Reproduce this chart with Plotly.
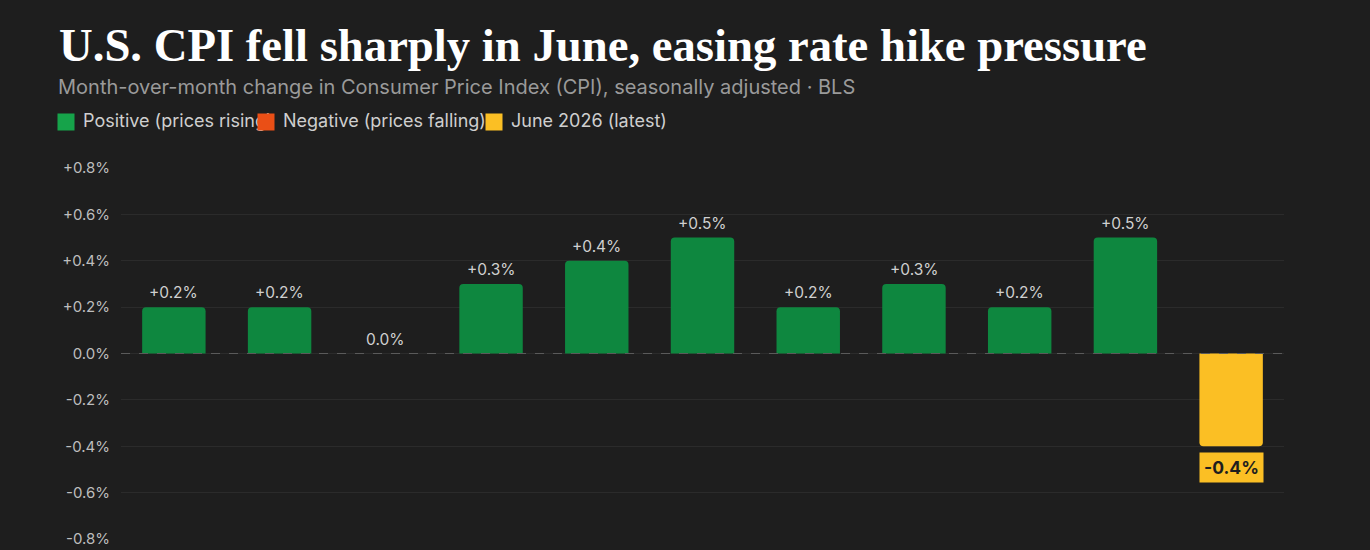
import plotly.graph_objects as go

# ---- data ----
months = ["Aug 2025", "Sep 2025", "Oct 2025", "Nov 2025", "Dec 2025", "Jan 2026",
          "Feb 2026", "Mar 2026", "Apr 2026", "May 2026", "Jun 2026"]
cpi_mom = [0.2, 0.2, 0.0, 0.3, 0.4, 0.5, 0.2, 0.3, 0.2, 0.5, -0.4]
y_ticks = [0.8, 0.6, 0.4, 0.2, 0.0, -0.2, -0.4, -0.6, -0.8]
legend_labels = ["Positive (prices rising)", "Negative (prices falling)", "June 2026 (latest)"]

TITLE = "U.S. CPI fell sharply in June, easing rate hike pressure"
SUBTITLE = "Month-over-month change in Consumer Price Index (CPI), seasonally adjusted · BLS"

# ---- style ----
BG = "#1e1e1e"
GREEN = "#0e873f"
GREEN_LEG = "#16a34a"
RED = "#ea4f16"
YELLOW = "#fbbf24"
W, H = 1370, 550
ML, MR, MT, MB = 121, 86, 168, 11
PW, PH = W - ML - MR, H - MT - MB


def px_x(px):
    return (px - ML) / PW


def px_y(py):
    return (H - MB - py) / PH


def fmt(v):
    if v > 0:
        return f"+{v:.1f}%"
    return f"{v:.1f}%"


colors = []
for i, v in enumerate(cpi_mom):
    if i == len(cpi_mom) - 1:
        colors.append(YELLOW)
    elif v >= 0:
        colors.append(GREEN)
    else:
        colors.append(RED)

fig = go.Figure()
fig.add_trace(go.Bar(
    x=months, y=cpi_mom, marker=dict(color=colors, line=dict(width=0), cornerradius=4),
    width=0.6, showlegend=False, hoverinfo="x+y",
))

annotations = []
for i, (m, v) in enumerate(zip(months, cpi_mom)):
    if i == len(cpi_mom) - 1:
        annotations.append(dict(
            x=m, y=v, xref="x", yref="y", text=f"<b>{fmt(v)}</b>", showarrow=False,
            yanchor="top", yshift=-6, bgcolor=YELLOW, borderpad=4,
            font=dict(family="Inter", size=17.5, color="#1e1e1e"),
        ))
    else:
        annotations.append(dict(
            x=m, y=v, xref="x", yref="y", text=fmt(v), showarrow=False,
            yanchor="bottom", yshift=3,
            font=dict(family="Inter", size=15.5, color="#d0d0d0"),
        ))

# title & subtitle
annotations.append(dict(
    x=px_x(57), y=px_y(45), xref="paper", yref="paper", xanchor="left", yanchor="middle",
    text=f"<b>{TITLE}</b>", showarrow=False,
    font=dict(family="Liberation Serif", size=46.7, color="#ffffff"),
))
annotations.append(dict(
    x=px_x(56), y=px_y(87), xref="paper", yref="paper", xanchor="left", yanchor="middle",
    text=SUBTITLE, showarrow=False,
    font=dict(family="Inter", size=20, color="#9a9a9a"),
))

# custom legend (texts first, squares drawn after so they sit on top)
leg_sq_x = [57, 257, 485]
leg_txt_x = [81, 281, 509]
leg_cols = [GREEN_LEG, RED, YELLOW]
for lbl, tx in zip(legend_labels, leg_txt_x):
    annotations.append(dict(
        x=px_x(tx), y=px_y(121), xref="paper", yref="paper", xanchor="left", yanchor="middle",
        text=lbl, showarrow=False, font=dict(family="Inter", size=18, color="#cfcfcf"),
    ))
for sx, c in zip(leg_sq_x, leg_cols):
    annotations.append(dict(
        x=px_x(sx), y=px_y(121.5), xref="paper", yref="paper", xanchor="left", yanchor="middle",
        text=" ", width=16, height=16, bgcolor=c, showarrow=False, borderpad=0,
        font=dict(size=10, color=c),
    ))

fig.update_layout(
    width=W, height=H,
    margin=dict(l=ML, r=MR, t=MT, b=MB, autoexpand=False),
    paper_bgcolor=BG, plot_bgcolor=BG,
    bargap=0.4,
    showlegend=False,
    annotations=annotations,
    shapes=[dict(type="line", xref="paper", yref="y", x0=0, x1=1, y0=0, y1=0,
                 line=dict(color="#5a5a5a", width=1.2, dash="dash"), layer="above")],
    xaxis=dict(showticklabels=False, showgrid=False, zeroline=False, showline=False,
               ticks="", automargin=False),
    yaxis=dict(range=[-0.8, 0.8], tickvals=y_ticks, ticktext=[fmt(v) if v != 0 else "0.0%" for v in y_ticks],
               showgrid=True, gridcolor="#2b2b2b", gridwidth=1, zeroline=False,
               showline=False, ticks="", ticklabelstandoff=10, automargin=False,
               tickfont=dict(family="Inter", size=15, color="#bdbdbd")),
    font=dict(family="Inter"),
)

fig.write_html("out.html")
